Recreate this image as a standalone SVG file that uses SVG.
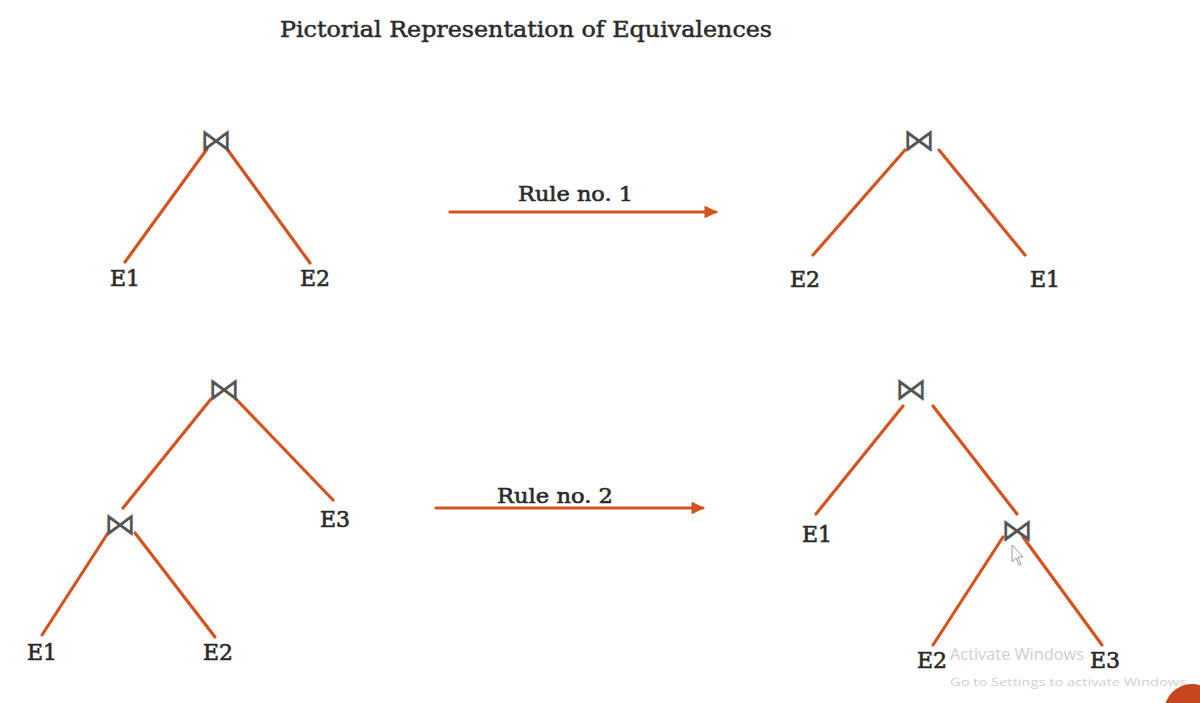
<svg xmlns="http://www.w3.org/2000/svg" width="1200" height="703" viewBox="0 0 1200 703">
<style>
.lbl{font-family:"DejaVu Serif","Liberation Serif",serif;font-size:22px;fill:#2a2a2a;stroke:#2a2a2a;stroke-width:0.6}
.ttl{font-family:"DejaVu Serif","Liberation Serif",serif;font-size:23px;fill:#2a2a2a;stroke:#2a2a2a;stroke-width:0.5}
.rule{font-family:"DejaVu Serif","Liberation Serif",serif;font-size:21px;fill:#2a2a2a;stroke:#2a2a2a;stroke-width:0.6}
.join{font-family:"DejaVu Sans",sans-serif;font-size:32px;fill:#555;text-anchor:middle}
.edge{stroke:#d4541f;stroke-width:3.2;stroke-linecap:round;fill:none}
.wm{font-family:"Open Sans","Liberation Sans",sans-serif;fill:#cfcfcf}
</style>
<defs>
<marker id="ah" viewBox="0 0 10 10" refX="9" refY="5" markerWidth="4" markerHeight="4" orient="auto">
<path d="M0,0 L10,5 L0,10 z" fill="#d4541f"/>
</marker>
</defs>
<rect width="1200" height="703" fill="#ffffff"/>
<text class="ttl" x="280" y="37" textLength="492" lengthAdjust="spacingAndGlyphs">Pictorial Representation of Equivalences</text>

<g id="connectors">
<line class="edge" x1="207" y1="149" x2="125" y2="262"/>
<line class="edge" x1="227" y1="149" x2="310" y2="263"/>
<line class="edge" x1="905" y1="150" x2="813" y2="255"/>
<line class="edge" x1="939" y1="150" x2="1025" y2="255"/>
<line class="edge" x1="211" y1="399" x2="123" y2="508"/>
<line class="edge" x1="236" y1="399" x2="333" y2="500"/>
<line class="edge" x1="108" y1="533" x2="42" y2="635"/>
<line class="edge" x1="135" y1="533" x2="215" y2="637"/>
<line class="edge" x1="903" y1="406" x2="816" y2="514"/>
<line class="edge" x1="933" y1="406" x2="1017" y2="514"/>
<line class="edge" x1="1003" y1="537" x2="933" y2="645"/>
<line class="edge" x1="1023" y1="537" x2="1102" y2="645"/>
<line class="edge" x1="450" y1="212" x2="716" y2="212" marker-end="url(#ah)"/>
<line class="edge" x1="436" y1="508" x2="703" y2="508" marker-end="url(#ah)"/>
<text class="rule" x="518" y="201" textLength="115" lengthAdjust="spacingAndGlyphs">Rule no. 1</text>
<text class="rule" x="497" y="503" textLength="116" lengthAdjust="spacingAndGlyphs">Rule no. 2</text>
</g>

<g id="tree1">
<g id="t1-join"><text class="join" x="216" y="151">⋈</text></g>
<g id="t1-e1"><text class="lbl" x="110" y="286">E1</text></g>
<g id="t1-e2"><text class="lbl" x="300" y="286">E2</text></g>
</g>

<g id="tree2">
<g id="t2-join"><text class="join" x="919" y="151">⋈</text></g>
<g id="t2-e2"><text class="lbl" x="790" y="287">E2</text></g>
<g id="t2-e1"><text class="lbl" x="1030" y="287">E1</text></g>
</g>

<g id="tree3">
<g id="t3-join-top"><text class="join" x="224" y="400">⋈</text></g>
<g id="t3-join-low"><text class="join" x="120" y="535">⋈</text></g>
<g id="t3-e3"><text class="lbl" x="320" y="527">E3</text></g>
<g id="t3-e1"><text class="lbl" x="27" y="660">E1</text></g>
<g id="t3-e2"><text class="lbl" x="203" y="660">E2</text></g>
</g>

<g id="tree4">
<g id="t4-join-top"><text class="join" x="911" y="400">⋈</text></g>
<g id="t4-join-low"><text class="join" x="1017" y="541">⋈</text></g>
<g id="t4-e1"><text class="lbl" x="802" y="542">E1</text></g>
<g id="t4-e2"><text class="lbl" x="917" y="668">E2</text></g>
<g id="t4-e3"><text class="lbl" x="1090" y="668">E3</text></g>
</g>

<text class="wm" x="950" y="660" font-size="17" textLength="134" lengthAdjust="spacingAndGlyphs">Activate Windows</text>
<text class="wm" x="950" y="686" font-size="11.5" textLength="240" lengthAdjust="spacingAndGlyphs">Go to Settings to activate Windows.</text>
<path d="M1012,545 L1012,562 L1016,558 L1019,565 L1021,564 L1018,557 L1023,557 Z" fill="#fff" stroke="#999" stroke-width="1"/>
<circle cx="1192" cy="712" r="28" fill="#c8451e"/>
</svg>
